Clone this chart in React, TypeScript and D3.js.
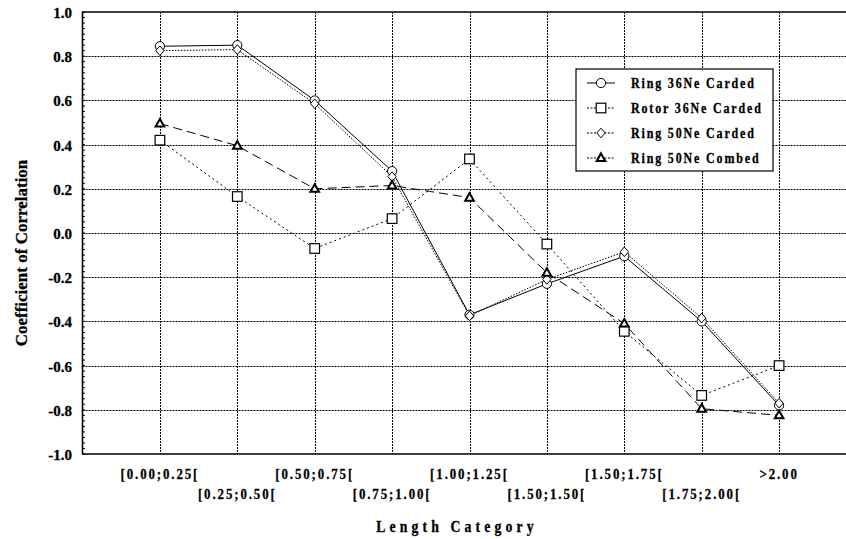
import React from "react";
import * as d3 from "d3";

const categories = [
  "[0.00;0.25[", "[0.25;0.50[", "[0.50;0.75[", "[0.75;1.00[", "[1.00;1.25[",
  "[1.50;1.50[", "[1.50;1.75[", "[1.75;2.00[", ">2.00",
];
const ring36Carded = [0.845, 0.85, 0.6, 0.28, -0.37, -0.23, -0.105, -0.4, -0.78];
const rotor36Carded = [0.42, 0.165, -0.07, 0.065, 0.335, -0.05, -0.445, -0.735, -0.6];
const ring50Carded = [0.825, 0.83, 0.585, 0.255, -0.375, -0.21, -0.085, -0.385, -0.77];
const ring50Combed = [0.495, 0.395, 0.2, 0.215, 0.16, -0.18, -0.41, -0.795, -0.825];
const yTicks = [1.0, 0.8, 0.6, 0.4, 0.2, 0.0, -0.2, -0.4, -0.6, -0.8, -1.0];

const series = [
  { name: "Ring 36Ne Carded", values: ring36Carded, dash: null, symbol: "circle" },
  { name: "Rotor 36Ne Carded", values: rotor36Carded, dash: "2,3", symbol: "square" },
  { name: "Ring 50Ne Carded", values: ring50Carded, dash: "1.5,1.5", symbol: "diamond" },
  { name: "Ring 50Ne Combed", values: ring50Combed, dash: "9,5", symbol: "triangle" },
];

const W = 846, H = 539;
const plot = { left: 82.5, top: 12, bottom: 454 };
const FONT = "'Liberation Serif', 'Times New Roman', serif";

const drawMarker = (g, kind, x, y) => {
  if (kind === "circle") {
    g.append("circle").attr("cx", x).attr("cy", y).attr("r", 4.6)
      .attr("fill", "#fff").attr("stroke", "#000").attr("stroke-width", 1);
  } else if (kind === "square") {
    g.append("rect").attr("x", x - 4.8).attr("y", y - 4.8).attr("width", 9.6).attr("height", 9.6)
      .attr("fill", "#fff").attr("stroke", "#000").attr("stroke-width", 1.2);
  } else if (kind === "diamond") {
    g.append("path").attr("d", `M${x},${y - 4.8}L${x + 4.2},${y}L${x},${y + 4.8}L${x - 4.2},${y}Z`)
      .attr("fill", "#fff").attr("stroke", "#000").attr("stroke-width", 1);
  } else {
    g.append("path").attr("d", `M${x},${y - 4.6}L${x + 4.3},${y + 3}L${x - 4.3},${y + 3}Z`)
      .attr("fill", "#fff").attr("stroke", "#000").attr("stroke-width", 2);
  }
};

// bold serif text, a little condensed and letter-spaced like the original print
const spacedText = (sel, x, y, str, size, sx, ls, anchor) =>
  sel.append("text")
    .attr("transform", `translate(${x},${y}) scale(${sx},1)`)
    .attr("text-anchor", anchor)
    .attr("font-family", FONT).attr("font-weight", "bold")
    .attr("font-size", size).attr("letter-spacing", ls)
    .attr("stroke", "#000").attr("stroke-width", 0.3)
    .text(str);

const App = () => {
  const ref = React.useRef(null);

  React.useEffect(() => {
    const svg = d3.select(ref.current);
    svg.selectAll("*").remove();
    const xScale = d3.scaleLinear([0, categories.length + 1], [plot.left, plot.left + 77.4 * 10]);
    const yScale = d3.scaleLinear([-1, 1], [plot.bottom, plot.top]);

    // grid
    const grid = svg.append("g");
    yTicks.filter(t => t > -1 && t < 1).forEach(t => {
      const y = Math.round(yScale(t)) + 0.5;
      grid.append("line").attr("x1", plot.left).attr("x2", W).attr("y1", y).attr("y2", y)
        .attr("stroke", "#000").attr("stroke-width", 1).attr("stroke-dasharray", "2,1");
    });
    categories.forEach((c, i) => {
      const x = Math.round(xScale(i + 1)) + 0.5;
      grid.append("line").attr("x1", x).attr("x2", x)
        .attr("y1", plot.top).attr("y2", plot.bottom)
        .attr("stroke", "#000").attr("stroke-width", 1).attr("stroke-dasharray", "2,1");
    });

    // minor ticks on the left axis
    d3.range(-1, 1.0001, 0.025).forEach(t => {
      svg.append("line").attr("x1", plot.left).attr("x2", plot.left + 2.5)
        .attr("y1", yScale(t)).attr("y2", yScale(t)).attr("stroke", "#000").attr("stroke-width", 1);
    });

    // frame
    svg.append("path")
      .attr("d", `M${W},${plot.top}H${plot.left}V${plot.bottom}H${W}`)
      .attr("fill", "none").attr("stroke", "#000").attr("stroke-width", 1.6);

    // y tick labels
    yTicks.forEach(t => {
      svg.append("text").attr("x", 72).attr("y", yScale(t) + 1)
        .attr("text-anchor", "end").attr("dominant-baseline", "central")
        .attr("font-family", FONT).attr("font-weight", "bold").attr("font-size", 15)
        .attr("stroke", "#000").attr("stroke-width", 0.3)
        .text(t.toFixed(1));
    });

    // x tick labels (staggered)
    categories.forEach((c, i) => {
      spacedText(svg, xScale(i + 1), i % 2 === 0 ? 479 : 499, c, 15, 0.86, 2.2, "middle");
    });

    // axis titles
    spacedText(svg, 457, 532, "Length Category", 16, 0.86, 4.8, "middle");
    svg.append("text")
      .attr("transform", `translate(27,253) rotate(-90)`)
      .attr("text-anchor", "middle")
      .attr("font-family", FONT).attr("font-weight", "bold").attr("font-size", 17)
      .attr("stroke", "#000").attr("stroke-width", 0.3)
      .text("Coefficient of Correlation");

    // lines
    const line = d3.line().x((d, i) => xScale(i + 1)).y(d => yScale(d));
    series.forEach(s => {
      svg.append("path").datum(s.values)
        .attr("fill", "none").attr("stroke", "#000").attr("stroke-width", 1)
        .attr("stroke-dasharray", s.dash)
        .attr("d", line);
    });
    series.forEach(s => {
      const g = svg.append("g");
      s.values.forEach((v, i) => drawMarker(g, s.symbol, xScale(i + 1), yScale(v)));
    });

    // legend
    const legend = svg.append("g");
    legend.append("rect").attr("x", 576).attr("y", 69).attr("width", 197).attr("height", 102)
      .attr("fill", "#fff").attr("stroke", "#000").attr("stroke-width", 1.2);
    series.forEach((s, i) => {
      const y = 83 + i * 25;
      legend.append("line").attr("x1", 587).attr("x2", 615).attr("y1", y).attr("y2", y)
        .attr("stroke", "#000").attr("stroke-width", 1)
        .attr("stroke-dasharray", s.dash ? "2,1.5" : null);
      drawMarker(legend, s.symbol, 601, y);
      spacedText(legend, 631, y + 5, s.name, 15, 0.8, 2.3, "start");
    });
  }, []);

  return <svg ref={ref} width={W} height={H}
    style={{ position: "absolute", left: 0, top: 0, background: "#fff" }} />;
};

export default App;
